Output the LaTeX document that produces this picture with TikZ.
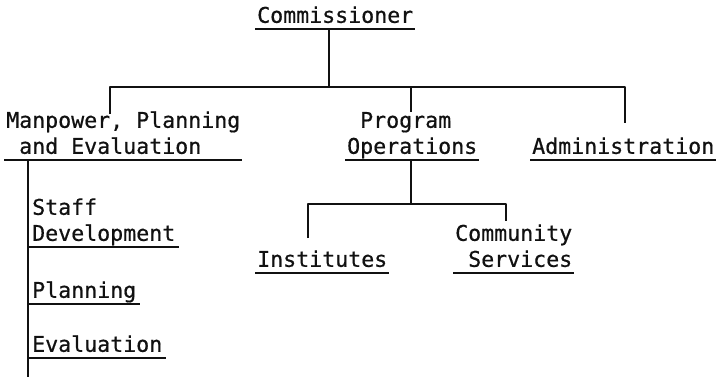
\documentclass[tikz,border=0pt]{standalone}
\usepackage{fontspec}
\newfontfamily\typew[FakeBold=0.6]{DejaVu Sans Mono}
\usetikzlibrary{calc}
\definecolor{ink}{HTML}{111111}

\begin{document}
\begin{tikzpicture}[
  x=1pt, y=-1pt,
  line join=round,
  wire/.style={draw=ink, line width=1.6pt},
  % text with its typed underline along the bottom edge
  unit/.style={font=\typew\fontsize{21.6}{26}\selectfont, text=ink, align=left,
    anchor=south west, inner xsep=2pt, inner ysep=1pt, text depth=5pt,
    append after command={(\tikzlastnode.south west) edge[draw=ink, line width=1.4pt] (\tikzlastnode.south east)}},
  sub/.style={unit, inner xsep=4pt},
]
\useasboundingbox[fill=white] (0,0) rectangle (719,379);
\def\Hub{87}    % main bus
\def\Sub{204}   % bus below Program Operations

% --- Units
\node[unit] (comm)  at (255,29)  {Commissioner};
\node[unit] (mpe)   at (4,160)   {Manpower, Planning\\\hphantom{x}and Evaluation};
\node[unit] (po)    at (345,160) {\hphantom{x}Program\\Operations};
\node[unit] (adm)   at (530,160) {Administration};
\node[unit] (inst)  at (255,273) {Institutes};
\node[unit] (comsv) at (453,273) {Community\\\hphantom{x}Services};
% staff units hang off the spine
\node[sub] (staff) at (28,247) {Staff\\Development};
\node[sub] (plan)  at (28,304) {Planning};
\node[sub] (eval)  at (28,358) {Evaluation};

% --- Free ends of the drops (just above the text)
\coordinate (mpe-in)   at (110,114);
\coordinate (po-in)    at (411,112);
\coordinate (adm-in)   at (625,123);
\coordinate (inst-in)  at (308,238);
\coordinate (comsv-in) at (506,221);
\coordinate (spine-end) at (28,377);

% --- Connectors
\draw[wire] ([xshift=-6pt]comm.south) -- ([xshift=-6pt]comm.south |- 0,\Hub) coordinate (hub);
\draw[wire] (mpe-in) |- (hub) -| (adm-in);
\draw[wire] (po-in) -- (po-in |- hub);
\draw[wire] (po.south -| po-in) -- (po-in |- 0,\Sub) coordinate (subhub);
\draw[wire] (inst-in) |- (subhub) -| (comsv-in);
\draw[wire] (mpe.south -| staff.south west) -- (spine-end);
\end{tikzpicture}
\end{document}
